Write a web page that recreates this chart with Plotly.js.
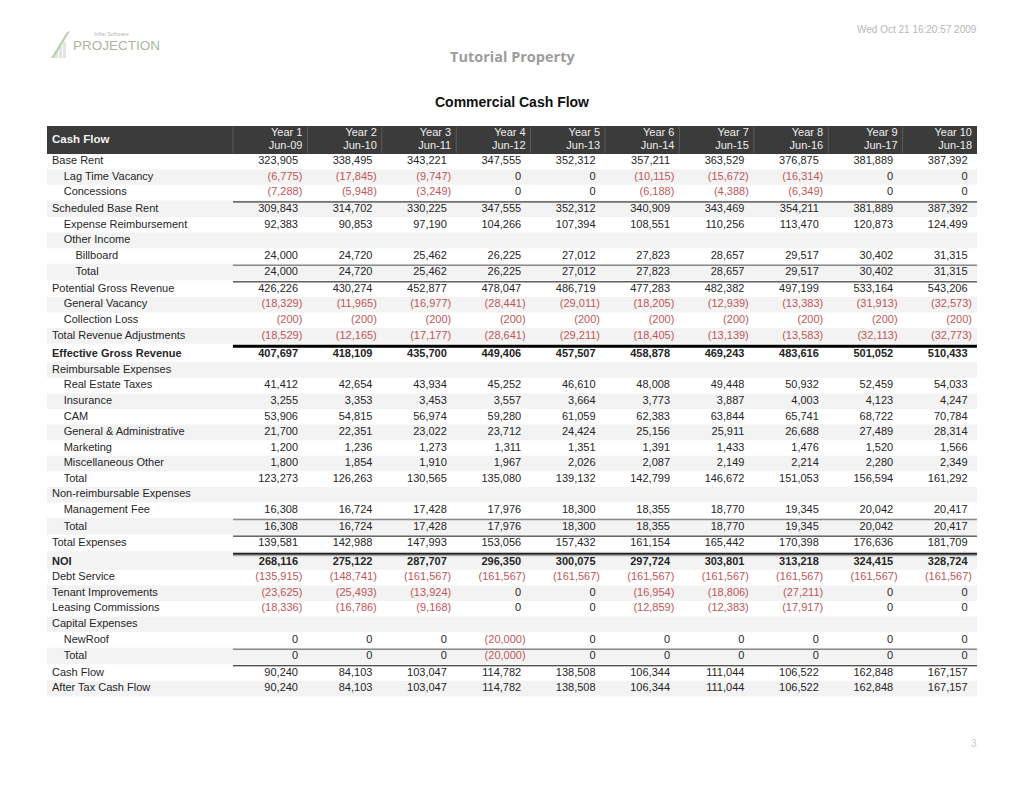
<!DOCTYPE html>
<html><head><meta charset="utf-8">
<script src="https://cdn.plot.ly/plotly-3.0.1.min.js"></script>
<style>html,body{margin:0;padding:0;background:#fff}#chart{width:1024px;height:789px}</style>
</head><body><div id="chart"></div>
<script>
// ---------- DATA ----------
const rowLabels = ["Base Rent","Lag Time Vacancy","Concessions","Scheduled Base Rent","Expense Reimbursement","Other Income","Billboard","Total","Potential Gross Revenue","General Vacancy","Collection Loss","Total Revenue Adjustments","Effective Gross Revenue","Reimbursable Expenses","Real Estate Taxes","Insurance","CAM","General & Administrative","Marketing","Miscellaneous Other","Total","Non-reimbursable Expenses","Management Fee","Total","Total Expenses","NOI","Debt Service","Tenant Improvements","Leasing Commissions","Capital Expenses","NewRoof","Total","Cash Flow","After Tax Cash Flow"];
const rowLevels = [0,1,1,0,1,1,2,2,0,1,1,0,0,0,1,1,1,1,1,1,1,0,1,1,0,0,0,0,0,0,1,1,0,0];
const boldRows = ["Effective Gross Revenue","NOI"];
const yearLabels = ["Year 1","Year 2","Year 3","Year 4","Year 5","Year 6","Year 7","Year 8","Year 9","Year 10"];
const periodLabels = ["Jun-09","Jun-10","Jun-11","Jun-12","Jun-13","Jun-14","Jun-15","Jun-16","Jun-17","Jun-18"];

const year1  = [323905,-6775,-7288,309843,92383,null,24000,24000,426226,-18329,-200,-18529,407697,null,41412,3255,53906,21700,1200,1800,123273,null,16308,16308,139581,268116,-135915,-23625,-18336,null,0,0,90240,90240];
const year2  = [338495,-17845,-5948,314702,90853,null,24720,24720,430274,-11965,-200,-12165,418109,null,42654,3353,54815,22351,1236,1854,126263,null,16724,16724,142988,275122,-148741,-25493,-16786,null,0,0,84103,84103];
const year3  = [343221,-9747,-3249,330225,97190,null,25462,25462,452877,-16977,-200,-17177,435700,null,43934,3453,56974,23022,1273,1910,130565,null,17428,17428,147993,287707,-161567,-13924,-9168,null,0,0,103047,103047];
const year4  = [347555,0,0,347555,104266,null,26225,26225,478047,-28441,-200,-28641,449406,null,45252,3557,59280,23712,1311,1967,135080,null,17976,17976,153056,296350,-161567,0,0,null,-20000,-20000,114782,114782];
const year5  = [352312,0,0,352312,107394,null,27012,27012,486719,-29011,-200,-29211,457507,null,46610,3664,61059,24424,1351,2026,139132,null,18300,18300,157432,300075,-161567,0,0,null,0,0,138508,138508];
const year6  = [357211,-10115,-6188,340909,108551,null,27823,27823,477283,-18205,-200,-18405,458878,null,48008,3773,62383,25156,1391,2087,142799,null,18355,18355,161154,297724,-161567,-16954,-12859,null,0,0,106344,106344];
const year7  = [363529,-15672,-4388,343469,110256,null,28657,28657,482382,-12939,-200,-13139,469243,null,49448,3887,63844,25911,1433,2149,146672,null,18770,18770,165442,303801,-161567,-18806,-12383,null,0,0,111044,111044];
const year8  = [376875,-16314,-6349,354211,113470,null,29517,29517,497199,-13383,-200,-13583,483616,null,50932,4003,65741,26688,1476,2214,151053,null,19345,19345,170398,313218,-161567,-27211,-17917,null,0,0,106522,106522];
const year9  = [381889,0,0,381889,120873,null,30402,30402,533164,-31913,-200,-32113,501052,null,52459,4123,68722,27489,1520,2280,156594,null,20042,20042,176636,324415,-161567,0,0,null,0,0,162848,162848];
const year10 = [387392,0,0,387392,124499,null,31315,31315,543206,-32573,-200,-32773,510433,null,54033,4247,70784,28314,1566,2349,161292,null,20417,20417,181709,328724,-161567,0,0,null,0,0,167157,167157];
const yearColumns = [year1,year2,year3,year4,year5,year6,year7,year8,year9,year10];

// rules drawn above rows (row index -> rule kind)
const rulesAbove = {3:'black',7:'gray',8:'black',12:'thick',23:'gray',24:'black',25:'double',31:'gray',32:'black'};

// ---------- GEOMETRY / STYLE ----------
const W = 1024, H = 789;
const U = 15.58;          // px per row
const COLW = 74.4;        // px per year column
const TABLE_LEFT = 47;
const LABEL_UNITS = 2.5;  // label column width in column units
const ROW0 = 161.5;
const FONT = 'Liberation Sans, Arial, sans-serif';
const DARK = '#262626';
const RED = '#c25656';

const xpx = p => (p - TABLE_LEFT) / COLW - LABEL_UNITS;
const ypx = p => (p - ROW0) / U;
const py = p => 1 - p / H;
const pxp = p => p / W;

const fmt = v => {
  const s = Math.abs(v).toLocaleString('en-US');
  return v < 0 ? '(' + s + ')' : s;
};

// row centres (extra spacing where rules sit)
const rowY = [];
let extra = 0;
rowLabels.forEach((_, i) => {
  const r = rulesAbove[i];
  if (r) extra += (r === 'thick' || r === 'double') ? 3 / U : 1 / U;
  rowY.push(i + extra);
});

const shapes = [];
// header bar
shapes.push({type:'rect', xref:'x', yref:'y', x0:-LABEL_UNITS, x1:10, y0:ypx(126), y1:ypx(154),
  fillcolor:'#3b3b3b', line:{width:0}, layer:'below'});
for (let j = 0; j < 10; j++) {
  shapes.push({type:'line', xref:'x', yref:'y', x0:j, x1:j, y0:ypx(127), y1:ypx(153),
    line:{color:'#5c5c5c', width:1}});
}
// alternating row bands
rowLabels.forEach((_, i) => {
  if (i % 2 === 1) {
    shapes.push({type:'rect', xref:'x', yref:'y', x0:-LABEL_UNITS, x1:10,
      y0: rowY[i-1] + 0.5, y1: rowY[i] + 0.5,
      fillcolor:'#f3f3f3', line:{width:0}, layer:'below'});
  }
});
// rules
Object.keys(rulesAbove).forEach(k => {
  const i = +k, kind = rulesAbove[k];
  const yMid = (rowY[i-1] + rowY[i]) / 2 + 1 / U;
  const style = {black:{c:'#111', w:1}, gray:{c:'#8a8a8a', w:1.6}, thick:{c:'#000', w:3}, double:{c:'#222', w:2}}[kind];
  shapes.push({type:'line', xref:'x', yref:'y', x0:0, x1:10, y0:yMid, y1:yMid,
    line:{color:style.c, width:style.w}});
  if (kind === 'double') {
    shapes.push({type:'line', xref:'x', yref:'y', x0:0, x1:10, y0:yMid + 2/U, y1:yMid + 2/U,
      line:{color:'#9a9a9a', width:1}});
  }
});
// logo mark
const P = (x, y) => pxp(x).toFixed(4) + ',' + py(y).toFixed(4);
[[55,50,58],[59,46,62],[63,42,66]].forEach(b => {
  shapes.push({type:'rect', xref:'paper', yref:'paper', x0:pxp(b[0]), x1:pxp(b[2]), y0:py(58), y1:py(b[1]),
    fillcolor:'#e1e5de', line:{width:0}});
});
shapes.push({type:'path', xref:'paper', yref:'paper',
  path:'M' + P(51,58) + ' L' + P(54,58) + ' L' + P(70,31) + ' L' + P(67,32) + ' Z',
  fillcolor:'#bfd0ae', line:{width:0}});

// ---------- TRACES ----------
const traces = [];
// row labels
traces.push({type:'scatter', mode:'text', cliponaxis:false, hoverinfo:'skip', showlegend:false,
  x: rowLabels.map((_, i) => -LABEL_UNITS + (5 + rowLevels[i] * 11.7) / COLW),
  y: rowY,
  text: rowLabels.map(l => boldRows.includes(l) ? '<b>' + l + '</b>' : l),
  textposition:'middle right',
  textfont:{family:FONT, size:11, color:DARK}});
// values per year column
yearColumns.forEach((col, j) => {
  const xs = [], ys = [], ts = [], cs = [];
  col.forEach((v, i) => {
    if (v === null) return;
    xs.push(j + 1 - (v < 0 ? 5 : 9.4) / COLW);
    ys.push(rowY[i]);
    const t = fmt(v);
    ts.push(boldRows.includes(rowLabels[i]) ? '<b>' + t + '</b>' : t);
    cs.push(v < 0 ? RED : DARK);
  });
  traces.push({type:'scatter', mode:'text', cliponaxis:false, hoverinfo:'skip', showlegend:false,
    x: xs, y: ys, text: ts, textposition:'middle left',
    textfont:{family:FONT, size:11, color:cs}});
});
// header text
traces.push({type:'scatter', mode:'text', cliponaxis:false, hoverinfo:'skip', showlegend:false,
  x:[xpx(52)], y:[ypx(140)], text:['<b>Cash Flow</b>'], textposition:'middle right',
  textfont:{family:FONT, size:11.5, color:'#f2f2f2'}});
traces.push({type:'scatter', mode:'text', cliponaxis:false, hoverinfo:'skip', showlegend:false,
  x: yearLabels.map((_, j) => j + 1 - 5 / COLW), y: yearLabels.map(() => ypx(133.5)),
  text: yearLabels, textposition:'middle left',
  textfont:{family:FONT, size:11, color:'#eeeeee'}});
traces.push({type:'scatter', mode:'text', cliponaxis:false, hoverinfo:'skip', showlegend:false,
  x: periodLabels.map((_, j) => j + 1 - 5 / COLW), y: periodLabels.map(() => ypx(146.5)),
  text: periodLabels, textposition:'middle left',
  textfont:{family:FONT, size:11, color:'#eeeeee'}});

// ---------- LAYOUT ----------
const layout = {
  width: W, height: H,
  margin:{l:0, r:0, t:0, b:0, pad:0},
  paper_bgcolor:'#ffffff', plot_bgcolor:'#ffffff',
  showlegend:false,
  xaxis:{range:[xpx(0), xpx(W)], visible:false, fixedrange:true},
  yaxis:{range:[ypx(H), ypx(0)], visible:false, fixedrange:true},
  title:{text:'<b>Commercial Cash Flow</b>', x:0.5, xanchor:'center', xref:'paper',
    y: py(102), yanchor:'middle', yref:'container',
    font:{family:FONT, size:14, color:'#111'}},
  shapes: shapes,
  annotations:[
    {text:'<b>Tutorial Property</b>', xref:'paper', yref:'paper', x:0.5, y:py(57), xanchor:'center', yanchor:'middle',
      showarrow:false, font:{family:'Open Sans, sans-serif', size:14.5, color:'#9c9c9c'}},
    {text:'Wed Oct 21 16:20:57 2009', xref:'paper', yref:'paper', x:pxp(979), y:py(29), xanchor:'right', yanchor:'middle',
      showarrow:false, font:{family:FONT, size:10, color:'#b8b8b8'}},
    {text:'3', xref:'paper', yref:'paper', x:pxp(979), y:py(743), xanchor:'right', yanchor:'middle',
      showarrow:false, font:{family:FONT, size:10, color:'#c8c8c8'}},
    {text:'PROJECTION', xref:'paper', yref:'paper', x:pxp(71), y:py(46), xanchor:'left', yanchor:'middle',
      showarrow:false, font:{family:FONT, size:13.5, color:'#a9b79d'}},
    {text:'Inflai Software', xref:'paper', yref:'paper', x:pxp(92), y:py(34), xanchor:'left', yanchor:'middle',
      showarrow:false, font:{family:FONT, size:5.5, color:'#b8b8b8'}}
  ]
};

Plotly.newPlot('chart', traces, layout, {staticPlot:true, displayModeBar:false});
</script>
</body></html>
